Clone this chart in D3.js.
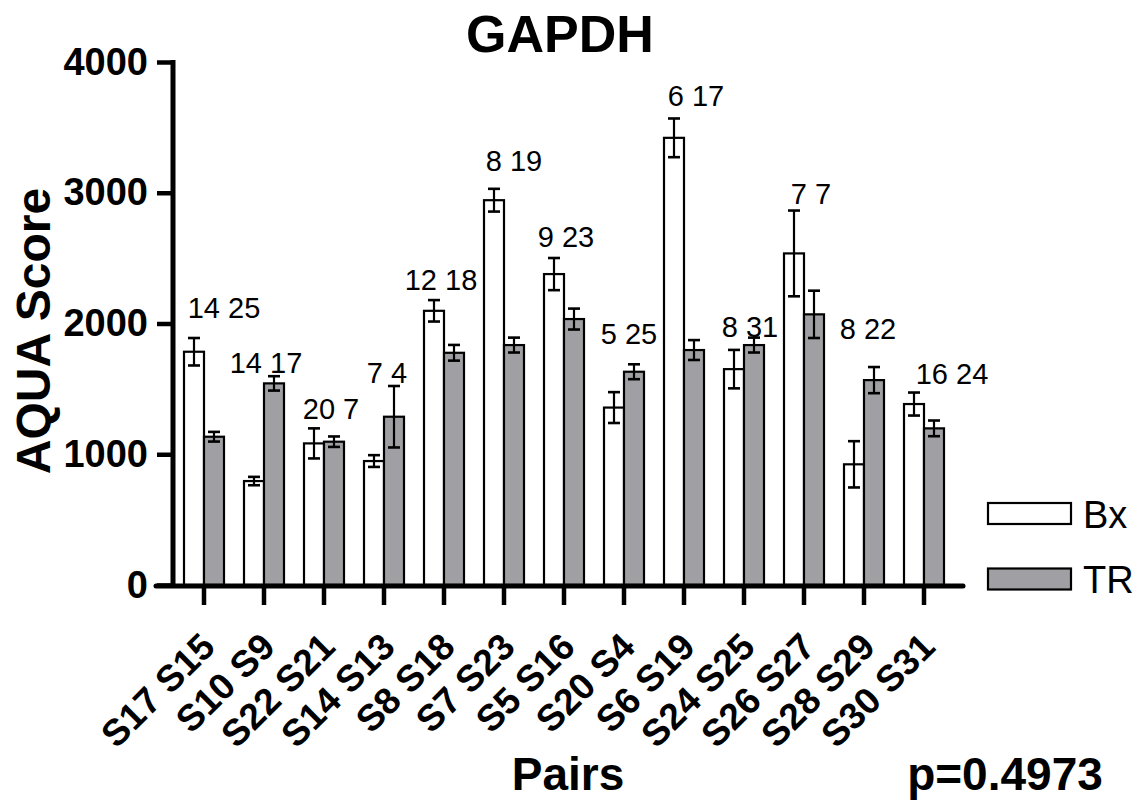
<!DOCTYPE html>
<html><head><meta charset="utf-8">
<script src="https://cdn.jsdelivr.net/npm/d3@7"></script>
<style>
html,body{margin:0;padding:0;background:#fff;}
svg{display:block;font-family:"Liberation Sans",Arial,sans-serif;}
</style></head>
<body>
<svg id="chart" width="1141" height="804"></svg>
<script>
const pairs = ["S17 S15","S10 S9","S22 S21","S14 S13","S8 S18","S7 S23","S5 S16","S20 S4","S6 S19","S24 S25","S26 S27","S28 S29","S30 S31"];
const bx    = [1784, 795, 1083, 948, 2097, 2943, 2378, 1357, 3420, 1651, 2536, 923, 1384];
const bxErr = [105, 32, 115, 45, 82, 87, 123, 118, 148, 147, 328, 177, 88];
const tr    = [1134, 1542, 1096, 1287, 1776, 1835, 2034, 1631, 1797, 1835, 2070, 1567, 1198];
const trErr = [37, 55, 40, 235, 60, 57, 80, 57, 76, 57, 181, 100, 60];
const counts = ["14 25","14 17","20 7","7 4","12 18","8 19","9 23","5 25","6 17","8 31","7 7","8 22","16 24"];
const yTicks = [0, 1000, 2000, 3000, 4000];
const seriesNames = ["Bx", "TR"];

// layout-only offsets for count labels (px)
const labelDx = [20, 2, 7, 3, -3, 10, 2, 5, 12, 6, 7, 4, 28];
const labelDy = [-20, -3, -9, -3, -10, -18, -11, -20, -12, -1, -7, -28, -9];

const svg = d3.select("#chart");
const colors = {Bx: "#ffffff", TR: "#a0a0a4"};

const x = d3.scaleBand().domain(pairs).range([174, 954]).paddingInner(0).paddingOuter(0);
const y = d3.scaleLinear().domain([0, 4000]).range([585, 62]);
const barW = 20;

const data = pairs.map((p, i) => ({p, i, bx: bx[i], bxErr: bxErr[i], tr: tr[i], trErr: trErr[i], n: counts[i]}));

// Title
svg.append("text").attr("x", 560).attr("y", 52).attr("text-anchor", "middle")
  .attr("font-size", 52).attr("font-weight", "bold").text("GAPDH");

// Bars
const g = svg.append("g");
data.forEach(d => {
  const cx = x(d.p) + x.bandwidth() / 2;
  [["Bx", d.bx, d.bxErr, cx - barW], ["TR", d.tr, d.trErr, cx]].forEach(([s, v, e, x0]) => {
    g.append("rect").attr("x", x0).attr("y", y(v)).attr("width", barW).attr("height", y(0) - y(v))
      .attr("fill", colors[s]).attr("stroke", "#000").attr("stroke-width", 2.2);
    const mx = x0 + barW / 2;
    g.append("line").attr("x1", mx).attr("x2", mx).attr("y1", y(v + e)).attr("y2", y(v - e))
      .attr("stroke", "#000").attr("stroke-width", 2.2);
    [v + e, v - e].forEach(t => g.append("line").attr("x1", mx - 6).attr("x2", mx + 6)
      .attr("y1", y(t)).attr("y2", y(t)).attr("stroke", "#000").attr("stroke-width", 2.6));
  });
  const top = Math.max(d.bx + d.bxErr, d.tr + d.trErr);
  svg.append("text").attr("x", cx + labelDx[d.i]).attr("y", y(top) + labelDy[d.i])
    .attr("text-anchor", "middle").attr("font-size", 29).text(d.n);
});

// Y axis
const yAxis = d3.axisLeft(y).tickValues(yTicks).tickSize(16).tickPadding(9).tickFormat(d3.format("d"));
const ya = svg.append("g").attr("transform", "translate(173,0)").call(yAxis);
ya.select(".domain").remove();
ya.selectAll(".tick line").attr("stroke", "#000").attr("stroke-width", 4.5);
ya.selectAll(".tick text").attr("font-size", 38).attr("font-weight", "bold")
  .attr("font-family", "Liberation Sans, Arial, sans-serif").attr("fill", "#000");
svg.append("line").attr("x1", 173).attr("x2", 173).attr("y1", 60).attr("y2", 588)
  .attr("stroke", "#000").attr("stroke-width", 5);

// X axis
const xAxis = d3.axisBottom(x).tickSize(19).tickFormat("");
const xa = svg.append("g").attr("transform", "translate(0,586)").call(xAxis);
xa.select(".domain").remove();
xa.selectAll(".tick line").attr("stroke", "#000").attr("stroke-width", 4.5);
svg.append("line").attr("x1", 156).attr("x2", 963).attr("y1", 586).attr("y2", 586)
  .attr("stroke", "#000").attr("stroke-width", 5).attr("stroke-linecap", "round");

svg.append("g").selectAll("text").data(pairs).join("text")
  .attr("transform", p => `translate(${x(p) + x.bandwidth() / 2 + 13},649) rotate(-45)`)
  .attr("text-anchor", "end").attr("font-size", 37).attr("font-weight", "bold").text(p => p);

// Axis titles
svg.append("text").attr("transform", "translate(50,331) rotate(-90)").attr("text-anchor", "middle")
  .attr("font-size", 48).attr("font-weight", "bold").text("AQUA Score");
svg.append("text").attr("x", 568).attr("y", 790).attr("text-anchor", "middle")
  .attr("font-size", 46).attr("font-weight", "bold").text("Pairs");
svg.append("text").attr("x", 1005).attr("y", 790).attr("text-anchor", "middle")
  .attr("font-size", 46).attr("font-weight", "bold").text("p=0.4973");

// Legend
const leg = svg.append("g");
seriesNames.forEach((s, i) => {
  const yy = 503 + i * 65.5;
  leg.append("rect").attr("x", 988).attr("y", yy).attr("width", 83).attr("height", 21)
    .attr("fill", colors[s]).attr("stroke", "#000").attr("stroke-width", 2.2);
  leg.append("text").attr("x", 1083).attr("y", yy + 24.5).attr("font-size", 38).text(s);
});
</script>
</body></html>
